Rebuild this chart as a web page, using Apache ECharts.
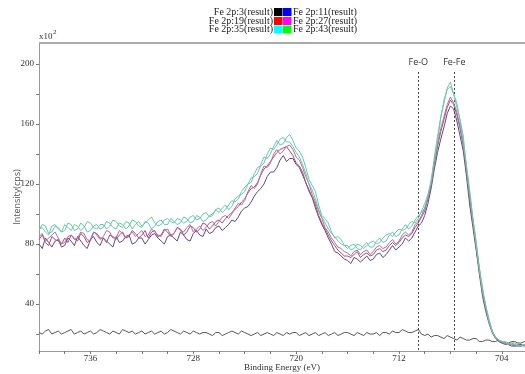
<!DOCTYPE html>
<html><head><meta charset="utf-8">
<script src="https://cdn.jsdelivr.net/npm/echarts@6/dist/echarts.min.js"></script>
<style>html,body{margin:0;padding:0;background:#fff}#c{width:525px;height:374px}</style>
</head><body><div id="c"></div>
<script>
// Binding energy (eV) sample points
const energies = [740,739.75,739.5,739.25,739,738.75,738.5,738.25,738,737.75,737.5,737.25,737,736.75,736.5,736.25,736,735.75,735.5,735.25,
735,734.75,734.5,734.25,734,733.75,733.5,733.25,733,732.75,732.5,732.25,732,731.75,731.5,731.25,731,730.75,730.5,730.25,
730,729.75,729.5,729.25,729,728.75,728.5,728.25,728,727.75,727.5,727.25,727,726.75,726.5,726.25,726,725.75,725.5,725.25,
725,724.75,724.5,724.25,724,723.75,723.5,723.25,723,722.75,722.5,722.25,722,721.75,721.5,721.25,721,720.75,720.5,720.25,
720,719.75,719.5,719.25,719,718.75,718.5,718.25,718,717.75,717.5,717.25,717,716.75,716.5,716.25,716,715.75,715.5,715.25,
715,714.75,714.5,714.25,714,713.75,713.5,713.25,713,712.75,712.5,712.25,712,711.75,711.5,711.25,711,710.75,710.5,710.25,
710,709.75,709.5,709.25,709,708.75,708.5,708.25,708,707.75,707.5,707.25,707,706.75,706.5,706.25,706,705.75,705.5,705.25,
705,704.75,704.5,704.25,704,703.75,703.5,703.25,703,702.75,702.5,702.25,702];

// Intensity (x10^2 cps)
const fe3 = [21,20,22,23,20,21,22,20,21,22,23,20,21,22,20,21,22,20,21,23,
22,21,20,22,21,20,23,22,21,22,20,21,22,20,21,22,20,21,22,20,
21,23,22,21,20,22,21,20,22,21,20,21,21,20,19,21,21,19,20,21,
22,21,20,22,21,20,19,20,21,19,20,21,20,19,21,20,19,21,20,21,
21,19,20,21,19,20,21,19,20,21,19,20,21,19,20,21,21,20,19,21,
20,19,21,20,20,21,19,21,21,20,22,21,21,23,22,21,21,22,23,20,
19,20,18,19,19,18,17,19,18,17,16,18,17,16,16,17,17,15,15,16,
16,15,15,16,15,14,14,15,15,14,14,15,15];
const fe11 = [80,77,84,81,78,82,83,78,79,84,82,79,85,82,79,77,83,85,81,79,
84,82,80,78,85,81,82,85,86,80,81,84,84,80,83,86,87,84,82,80,
85,86,84,82,88,86,83,82,87,89,86,85,90,87,88,91,92,89,91,93,
96,95,98,102,104,105,108,112,115,117,120,125,128,128,131,136,139,135,137,137,
133,131,126,121,116,111,104,98,93,89,84,80,75,74,72,70,69,67,71,70,
68,70,72,69,70,73,74,71,73,76,79,76,78,80,84,82,84,88,92,94,
99,107,117,130,141,150,158,167,172,170,162,152,142,125,106,91,76,60,45,35,
27,21,17,15,14,14,13,12,12,13,13,12,12];
const fe19 = [83,86,81,79,85,83,82,80,84,81,86,84,82,87,85,81,83,88,87,84,
84,81,86,85,83,86,88,84,85,89,87,84,86,89,84,88,89,85,86,90,
88,85,87,91,90,86,88,92,91,88,90,94,93,90,92,95,96,94,97,99,
101,103,105,108,110,114,117,118,121,126,130,132,135,138,141,143,144,145,142,139,
134,132,128,121,115,111,106,99,94,90,86,82,79,76,74,72,72,71,73,75,
71,73,74,72,73,76,77,75,76,79,81,79,81,84,86,85,87,91,94,98,
102,110,119,133,145,155,163,171,176,173,166,157,145,128,110,94,78,62,47,37,
28,22,18,16,14,13,13,13,12,12,12,13,13];
const fe27 = [85,87,82,84,86,88,84,80,81,85,86,83,84,88,87,83,82,88,86,83,
85,89,88,84,84,89,87,84,86,88,85,87,89,85,86,90,88,86,85,89,
90,86,87,91,89,88,91,93,88,90,92,89,91,94,95,92,95,98,99,97,
100,104,107,106,109,115,119,117,120,127,132,131,134,140,143,140,142,145,146,143,
138,136,131,125,120,113,108,102,97,91,88,84,81,78,77,75,74,72,75,76,
73,75,76,73,75,78,79,77,78,81,83,80,82,86,88,86,88,93,95,99,
104,111,120,134,147,157,165,173,178,174,168,158,147,130,112,95,80,64,49,38,
29,22,18,16,15,14,13,14,13,12,12,13,12];
const fe35 = [89,93,92,87,88,92,91,88,89,94,93,89,90,94,92,88,89,92,93,90,
91,95,94,91,90,94,93,90,92,96,95,92,91,95,94,90,92,95,96,93,
93,97,95,93,94,98,97,94,95,99,98,95,96,99,100,103,101,104,106,103,
105,110,112,113,115,120,124,125,127,133,138,137,140,145,149,146,147,151,153,149,
144,142,138,131,123,119,115,106,99,97,94,88,84,85,83,79,77,79,80,77,
76,79,81,78,78,82,84,81,82,86,88,85,86,90,93,90,92,96,99,101,
104,112,123,136,149,164,176,183,185,180,174,162,148,132,116,97,79,64,51,38,
28,22,18,16,15,15,14,13,13,12,12,13,13];
const fe43 = [90,91,88,86,92,93,90,88,93,91,89,93,92,89,91,95,94,91,90,93,
93,90,92,96,95,92,91,95,94,90,93,95,92,94,96,98,94,92,93,96,
97,95,94,97,96,94,95,98,99,96,97,100,101,98,99,103,104,101,103,106,
109,108,110,115,118,120,121,127,131,132,134,140,144,143,146,150,151,148,148,145,
141,138,133,127,120,116,110,103,98,94,90,87,85,82,80,79,79,76,77,80,
79,77,79,81,82,80,81,84,86,87,85,88,90,89,90,93,95,94,97,102,
107,113,121,138,152,165,174,184,188,180,171,163,152,131,113,97,82,63,48,39,
30,22,17,16,15,14,13,14,14,13,12,12,12];

const seriesNames = ['Fe 2p:3(result)','Fe 2p:11(result)','Fe 2p:19(result)','Fe 2p:27(result)','Fe 2p:35(result)','Fe 2p:43(result)'];
const seriesData = [fe3, fe11, fe19, fe27, fe35, fe43];
const legendColors = ['#000000','#0000ff','#ff0000','#ff00ff','#00ffff','#00ff00'];
const lineColors = ['#555555','#5b4a8c','#a8506e','#b86aa8','#5fc6c6','#72c992'];

// Tick values
const yLabelTicks = [40,80,120,160,200];
const yMinorTicks = [20,40,60,80,100,120,140,160,180,200];
const xLabelTicks = [704,712,720,728,736];
const xMinorTicks = [704,706,708,710,712,714,716,718,720,722,724,726,728,730,732,734,736,738,740];

// Reference lines
const refLines = [{name:'Fe-O', x:710.5},{name:'Fe-Fe', x:707.7}];

const serif = 'Liberation Serif';
const sans = 'Open Sans';

function pairs(v){ return energies.map((e,i)=>[e, v[i]]); }

const series = seriesData.map((d,i)=>({
  name: seriesNames[i], type:'line', data: pairs(d), showSymbol:false, symbol:'none',
  lineStyle:{color: lineColors[i], width: 1}, itemStyle:{color: lineColors[i]},
  z: 2 + i, silent: true
}));
series[0].markLine = {
  silent:true, symbol:['none','none'],
  lineStyle:{type:[2,2], color:'#444', width:1},
  data: refLines.map(r=>[
    {coord:[r.x, 194.7], label:{show:true, formatter:r.name, position:'start', distance:5, fontFamily:sans, fontSize:9, color:'#333'}},
    {coord:[r.x, 8.7]}
  ])
};

// Legend built as graphic
const legendG = [];
const rowY = [12, 21, 29.5];
for (let r=0;r<3;r++){
  const a = 2*r, b = 2*r+1;
  legendG.push({type:'text', x:273, y:rowY[r], style:{text:seriesNames[a], font:'10px "'+serif+'"', fill:'#222', align:'right', verticalAlign:'middle'}});
  legendG.push({type:'rect', x:274, y:rowY[r]-4, shape:{width:8.5,height:8}, style:{fill:legendColors[a]}});
  legendG.push({type:'rect', x:283, y:rowY[r]-4, shape:{width:8.5,height:8}, style:{fill:legendColors[b]}});
  legendG.push({type:'text', x:293, y:rowY[r], style:{text:seriesNames[b], font:'10px "'+serif+'"', fill:'#222', align:'left', verticalAlign:'middle'}});
}

const chart = echarts.init(document.getElementById('c'), null, {renderer:'canvas'});
chart.setOption({
  animation:false,
  backgroundColor:'#fff',
  grid:{left:39, right:0, top:43, bottom:23, containLabel:false, outerBoundsMode:'none'},
  xAxis:{
    type:'value', min:702.2, max:740, inverse:true,
    axisLine:{show:true, lineStyle:{color:'#999', width:1}},
    axisTick:{show:true, customValues:xMinorTicks, length:3, lineStyle:{color:'#777'}},
    axisLabel:{customValues:xLabelTicks, fontFamily:serif, fontSize:9, color:'#333', margin:3},
    splitLine:{show:false},
    name:'Binding Energy (eV)', nameLocation:'middle', nameGap:12, nameMoveOverlap:false,
    nameTextStyle:{fontFamily:serif, fontSize:9, color:'#333'}
  },
  yAxis:{
    type:'value', min:8.7, max:214,
    axisLine:{show:true, lineStyle:{color:'#999', width:1}},
    axisTick:{show:true, customValues:yMinorTicks, length:3, lineStyle:{color:'#777'}},
    axisLabel:{customValues:yLabelTicks, fontFamily:serif, fontSize:9, color:'#333', margin:5},
    splitLine:{show:false},
    name:'Intensity(cps)', nameLocation:'middle', nameGap:17, nameRotate:90, nameMoveOverlap:false,
    nameTextStyle:{fontFamily:sans, fontSize:9, color:'#555'}
  },
  graphic: legendG.concat([
    {type:'line', shape:{x1:39, y1:43, x2:525, y2:43}, style:{stroke:'#aaa', lineWidth:2}, z:10},
    {type:'text', x:39, y:32, style:{text:'x10', font:'9px "'+serif+'"', fill:'#333'}},
    {type:'text', x:53, y:29, style:{text:'2', font:'7px "'+serif+'"', fill:'#333'}}
  ]),
  series: series
});
</script>
</body></html>
